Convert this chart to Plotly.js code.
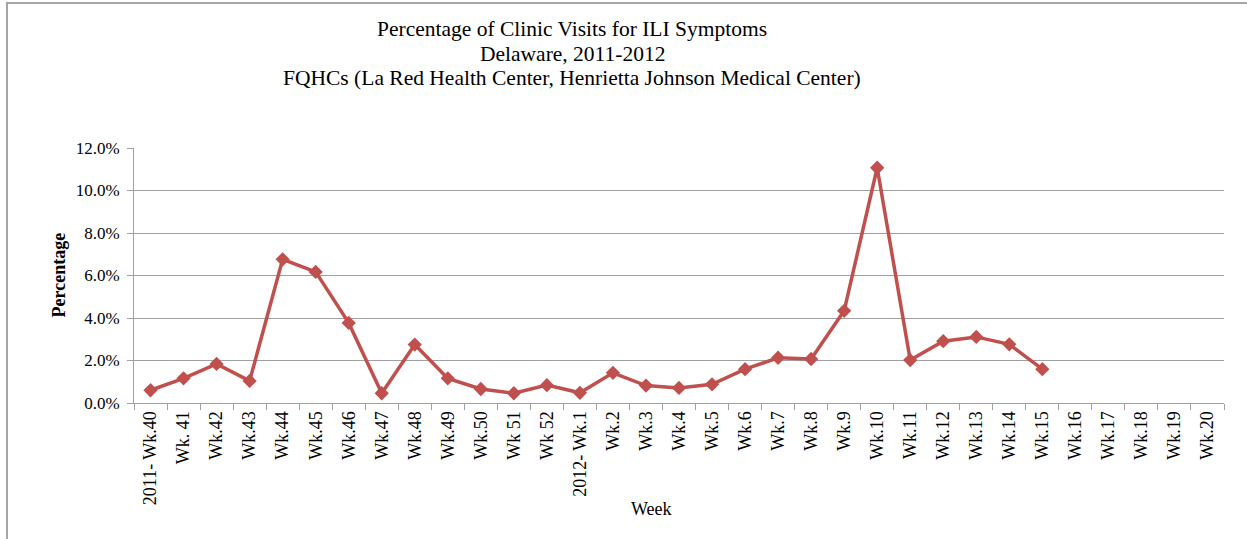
<!DOCTYPE html>
<html>
<head>
<meta charset="utf-8">
<script src="https://cdn.plot.ly/plotly-3.0.1.min.js"></script>
<style>
  html, body { margin: 0; padding: 0; background: #fff; }
  #wrap { position: relative; width: 1247px; height: 539px; overflow: hidden; }
  #chart { position: absolute; left: 0; top: 0; width: 1247px; height: 539px; }
  #frame { position: absolute; left: 6px; top: 2px; width: 1300px; height: 600px;
           border-left: 2px solid #a6a6a6; border-top: 2px solid #a6a6a6; pointer-events: none; }
</style>
</head>
<body>
<div id="wrap">
  <div id="chart"></div>
  <div id="frame"></div>
</div>
<script>
const weeks = ["2011- Wk.40","Wk. 41","Wk.42","Wk.43","Wk.44","Wk.45","Wk.46","Wk.47","Wk.48","Wk.49","Wk.50","Wk 51","Wk 52",
  "2012- Wk.1","Wk.2","Wk.3","Wk.4","Wk.5","Wk.6","Wk.7","Wk.8","Wk.9","Wk.10","Wk.11","Wk.12","Wk.13","Wk.14","Wk.15",
  "Wk.16","Wk.17","Wk.18","Wk.19","Wk.20"];
const percentILI = [0.6,1.16,1.84,1.04,6.76,6.17,3.77,0.46,2.75,1.16,0.66,0.46,0.84,
  0.48,1.42,0.82,0.71,0.88,1.59,2.13,2.07,4.34,11.07,2.02,2.91,3.11,2.76,1.59,
  null,null,null,null,null];
const yTicks = [0,2,4,6,8,10,12];
const titleLines = ["Percentage of Clinic Visits for ILI Symptoms","Delaware, 2011-2012","FQHCs (La Red Health Center, Henrietta Johnson Medical Center)"];

const serif = "Liberation Serif, Times New Roman, serif";
const red = "#C0504D";
const grid = "#a0a0a0";

const trace = {
  x: weeks, y: percentILI, type: "scatter", mode: "lines+markers",
  line: { color: red, width: 3.5 },
  marker: { symbol: "diamond", size: 11, color: red },
  connectgaps: false, hoverinfo: "x+y"
};

const plotL = 134, plotW = 1090, plotT = 148, plotH = 255;
const titleY = [29, 53.5, 78];

const annotations = titleLines.map((t, i) => ({
  text: t, xref: "paper", yref: "paper",
  x: (572 - plotL) / plotW, y: 1 + (plotT - titleY[i]) / plotH,
  xanchor: "center", yanchor: "middle", showarrow: false,
  font: { family: serif, size: 21.5, color: "#000" }
}));
annotations.push(
  { text: "Week", xref: "paper", yref: "paper",
    x: (651 - plotL) / plotW, y: -(509 - 403) / plotH, xanchor: "center", yanchor: "middle",
    showarrow: false, font: { family: serif, size: 18, color: "#000" } },
  { text: "<b>Percentage</b>", xref: "paper", yref: "paper", textangle: -90,
    x: -(plotL - 58) / plotW, y: 0.5, xanchor: "center", yanchor: "middle",
    showarrow: false, font: { family: serif, size: 18, color: "#000" } }
);

const layout = {
  width: 1247, height: 539,
  margin: { l: plotL, r: 1247 - plotL - plotW, t: plotT, b: 539 - plotT - plotH },
  paper_bgcolor: "#fff", plot_bgcolor: "#fff",
  showlegend: false,
  font: { family: serif, size: 17, color: "#000" },
  xaxis: {
    type: "category", tickangle: -90, tickson: "boundaries",
    ticks: "outside", ticklen: 6, tickcolor: grid, tickwidth: 1,
    showline: true, linecolor: grid, linewidth: 1,
    showgrid: false, tickfont: { family: serif, size: 18, color: "#000" },
    range: [-0.5, weeks.length - 0.5], fixedrange: true
  },
  yaxis: {
    range: [0, 12], tickvals: yTicks, ticktext: yTicks.map(v => v.toFixed(1) + "%"),
    ticks: "outside", ticklen: 6, tickcolor: grid, ticklabelstandoff: 4,
    showline: true, linecolor: grid, linewidth: 1,
    showgrid: true, gridcolor: grid, gridwidth: 1, zeroline: false,
    tickfont: { family: serif, size: 17, color: "#000" }, fixedrange: true
  },
  annotations: annotations
};

Plotly.newPlot("chart", [trace], layout, { displayModeBar: false, staticPlot: true });
</script>
</body>
</html>
